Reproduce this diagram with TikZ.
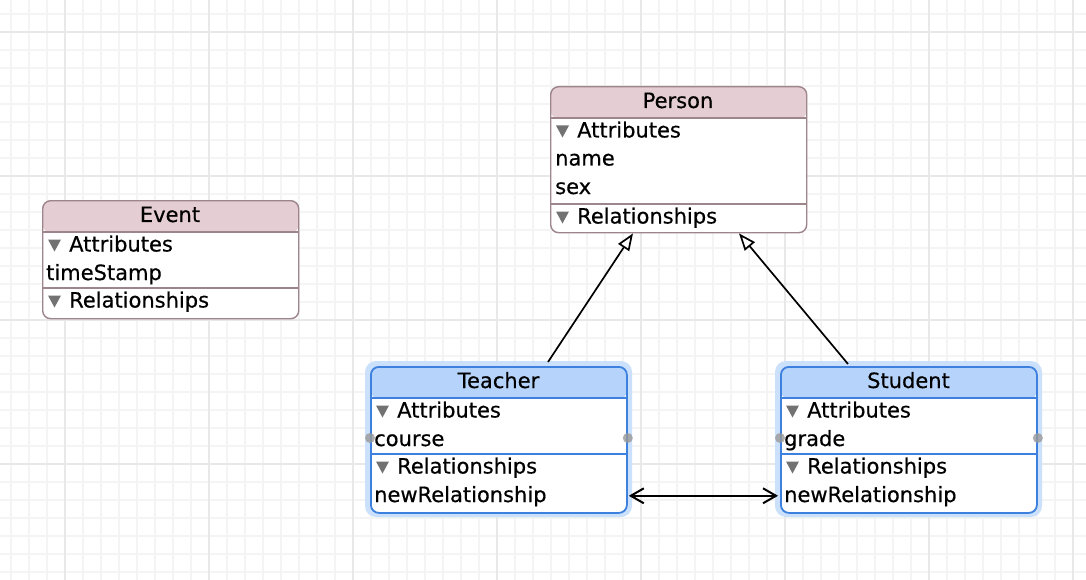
\documentclass[tikz,border=0pt]{standalone}
\usepackage{fontspec}
\setmainfont{DejaVu Sans}[FakeBold=0.5]
\usetikzlibrary{arrows.meta,calc}
\definecolor{gridminor}{HTML}{F4F4F4}
\definecolor{gridmajor}{HTML}{E8E8E8}
\definecolor{pinkhead}{HTML}{E5CDD4}
\definecolor{pinkedge}{HTML}{9E858B}
\definecolor{bluehead}{HTML}{B6D4FB}
\definecolor{blueedge}{HTML}{3D80DE}
\definecolor{bluehalo}{HTML}{CBE0FB}
\definecolor{trigray}{HTML}{727272}
\definecolor{handlegray}{HTML}{999999}
\tikzset{
  lbl/.style={font=\fontsize{21}{24}\selectfont, inner sep=0pt, text=black},
  entitybox/.style={rectangle, rounded corners=8pt, fill=white, inner sep=0pt,
    minimum width=256pt, anchor=north west, line width=1.4pt},
  pinkentity/.style={entitybox, draw=pinkedge,
    path picture={\fill[pinkhead] (path picture bounding box.north west) rectangle ([yshift=-32pt]path picture bounding box.north east);}},
  blueentity/.style={entitybox, draw=blueedge, line width=1.8pt,
    path picture={\fill[bluehead] (path picture bounding box.north west) rectangle ([yshift=-32pt]path picture bounding box.north east);}},
  pinksep/.style={draw=pinkedge, line width=1.4pt},
  bluesep/.style={draw=blueedge, line width=1.8pt},
  halo/.style={fill=bluehalo, rounded corners=11pt},
  handle/.style={fill=handlegray, opacity=0.8},
  inherit/.style={draw=black, line width=1.7pt, -{Triangle[open, length=17pt, width=13pt, fill=white]}},
  assoc/.style={draw=black, line width=2pt, {Straight Barb[length=13pt, width=15pt]}-{Straight Barb[length=13pt, width=15pt]}}
}
\newcommand\disctri[2]{\fill[trigray] (#1,#2) ++(0,-12) -- ++(13,0) -- ++(-6.5,12) -- cycle;}
\begin{document}
\begin{tikzpicture}[x=1pt,y=-1pt]
\useasboundingbox (0,0) rectangle (1086,580);
\fill[white] (0,0) rectangle (1086,580);
% grid
\foreach \x in {11,29,...,1085} \draw[gridminor, line width=1.2pt] (\x,0) -- (\x,580);
\foreach \y in {14,32,...,579} \draw[gridminor, line width=1.2pt] (0,\y) -- (1086,\y);
\foreach \x in {65,209,...,1085} \draw[gridmajor, line width=1.2pt] (\x,0) -- (\x,580);
\foreach \y in {32,176,...,579} \draw[gridmajor, line width=1.2pt] (0,\y) -- (1086,\y);

% ---------- Person ----------
\node[pinkentity, minimum height=146pt] (person) at (550,86) {};
\draw[pinksep] ([yshift=-32pt]person.north west) -- ([yshift=-32pt]person.north east);
\draw[pinksep] ([yshift=-118pt]person.north west) -- ([yshift=-118pt]person.north east);
\node[lbl, anchor=base] (personT) at (678,108) {Person};
\disctri{556}{137.5}
\node[lbl, anchor=base west] (personA) at (577,137.5) {Attributes};
\node[lbl, anchor=base west] (personA1) at (555,165.5) {name};
\node[lbl, anchor=base west] (personA2) at (555,194) {sex};
\disctri{556}{223.5}
\node[lbl, anchor=base west] (personR) at (577,223.5) {Relationships};

% ---------- Event ----------
\node[pinkentity, minimum height=118pt] (event) at (42,200) {};
\draw[pinksep] ([yshift=-32pt]event.north west) -- ([yshift=-32pt]event.north east);
\draw[pinksep] ([yshift=-88pt]event.north west) -- ([yshift=-88pt]event.north east);
\node[lbl, anchor=base] (eventT) at (170,222) {Event};
\disctri{48}{251.5}
\node[lbl, anchor=base west] (eventA) at (69,251.5) {Attributes};
\node[lbl, anchor=base west] (eventA1) at (46,280) {timeStamp};
\disctri{48}{307.5}
\node[lbl, anchor=base west] (eventR) at (69,307.5) {Relationships};

% ---------- Teacher ----------
\fill[halo] (365,361) rectangle (632,517);
\node[blueentity, minimum height=146pt] (teacher) at (370,366) {};
\draw[bluesep] ([yshift=-32pt]teacher.north west) -- ([yshift=-32pt]teacher.north east);
\draw[bluesep] ([yshift=-88pt]teacher.north west) -- ([yshift=-88pt]teacher.north east);
\node[lbl, anchor=base] (teacherT) at (498.5,388) {Teacher};
\disctri{376}{417.5}
\node[lbl, anchor=base west] (teacherA) at (397,417.5) {Attributes};
\node[lbl, anchor=base west] (teacherA1) at (374,446) {course};
\disctri{376}{473.5}
\node[lbl, anchor=base west] (teacherR) at (397,473.5) {Relationships};
\node[lbl, anchor=base west] (teacherR1) at (374,502) {newRelationship};
\fill[handle] (teacher.west |- 0,438) circle (5pt);
\fill[handle] (teacher.east |- 0,438) circle (5pt);

% ---------- Student ----------
\fill[halo] (775,361) rectangle (1042,517);
\node[blueentity, minimum height=146pt] (student) at (780,366) {};
\draw[bluesep] ([yshift=-32pt]student.north west) -- ([yshift=-32pt]student.north east);
\draw[bluesep] ([yshift=-88pt]student.north west) -- ([yshift=-88pt]student.north east);
\node[lbl, anchor=base] (studentT) at (908.5,388) {Student};
\disctri{786}{417.5}
\node[lbl, anchor=base west] (studentA) at (807,417.5) {Attributes};
\node[lbl, anchor=base west] (studentA1) at (784,446) {grade};
\disctri{786}{473.5}
\node[lbl, anchor=base west] (studentR) at (807,473.5) {Relationships};
\node[lbl, anchor=base west] (studentR1) at (784,502) {newRelationship};
\fill[handle] (student.west |- 0,438) circle (5pt);
\fill[handle] (student.east |- 0,438) circle (5pt);

% ---------- connectors ----------
\draw[inherit] ($(teacher.north west)+(178,-4)$) -- ($(person.south west)+(83,0)$);
\draw[inherit] ($(student.north west)+(68,-2)$) -- ($(person.south west)+(189,0)$);
\draw[assoc] ($(teacher.south east)+(1,-18)$) -- ($(student.south west)+(-2,-18)$);
\end{tikzpicture}
\end{document}
